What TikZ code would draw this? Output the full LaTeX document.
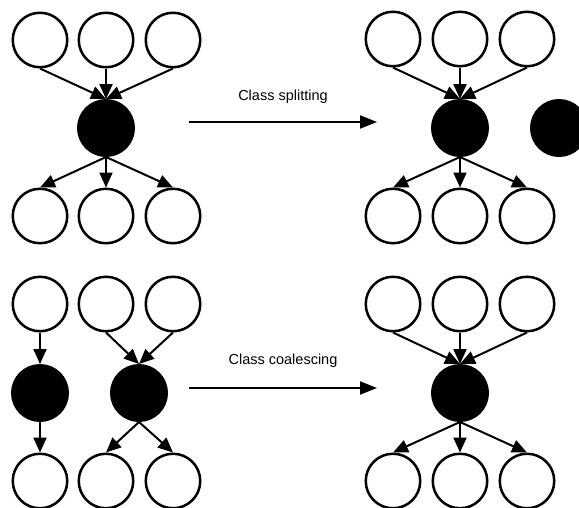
\documentclass[tikz,border=0pt]{standalone}
\usepackage{fontspec}
\setmainfont{Liberation Sans}
\usetikzlibrary{arrows.meta}
\begin{document}
\begin{tikzpicture}[x=1pt,y=-1pt,
  wnode/.style={circle,draw=black,fill=white,line width=2.5pt,minimum size=54.5pt,inner sep=0pt},
  bnode/.style={circle,draw=black,fill=black,line width=2.5pt,minimum size=55.5pt,inner sep=0pt},
  edge/.style={line width=2pt,-{Triangle[length=15pt,width=13pt]}},
  bigarrow/.style={line width=2pt,-{Triangle[length=17pt,width=13pt]}},
  lbl/.style={font=\fontsize{14.5pt}{17pt}\selectfont,inner sep=0pt}]
\useasboundingbox (0,0) rectangle (579,507);
% top-left
\node[wnode] (a1) at (40,40) {};
\node[wnode] (a2) at (106,40) {};
\node[wnode] (a3) at (173,40) {};
\node[bnode] (ab) at (106,128) {};
\node[wnode] (a4) at (40,216) {};
\node[wnode] (a5) at (106,216) {};
\node[wnode] (a6) at (173,216) {};
\draw[edge] (a1.south) -- (ab.north);
\draw[edge] (a2.south) -- (ab.north);
\draw[edge] (a3.south) -- (ab.north);
\draw[edge] (ab.south) -- (a4.north);
\draw[edge] (ab.south) -- (a5.north);
\draw[edge] (ab.south) -- (a6.north);
% top-right
\node[wnode] (b1) at (393,39) {};
\node[wnode] (b2) at (460,39) {};
\node[wnode] (b3) at (527,39) {};
\node[bnode] (bb) at (460,128) {};
\node[bnode] (bx) at (559,128) {};
\node[wnode] (b4) at (393,216) {};
\node[wnode] (b5) at (460,216) {};
\node[wnode] (b6) at (527,216) {};
\draw[edge] (b1.south) -- (bb.north);
\draw[edge] (b2.south) -- (bb.north);
\draw[edge] (b3.south) -- (bb.north);
\draw[edge] (bb.south) -- (b4.north);
\draw[edge] (bb.south) -- (b5.north);
\draw[edge] (bb.south) -- (b6.north);
% bottom-left
\node[wnode] (c1) at (40,304) {};
\node[wnode] (c2) at (106,304) {};
\node[wnode] (c3) at (173,304) {};
\node[bnode] (cb1) at (40,393) {};
\node[bnode] (cb2) at (139,393) {};
\node[wnode] (c4) at (40,481) {};
\node[wnode] (c5) at (106,481) {};
\node[wnode] (c6) at (173,481) {};
\draw[edge] (c1.south) -- (cb1.north);
\draw[edge] (c2.south) -- (cb2.north);
\draw[edge] (c3.south) -- (cb2.north);
\draw[edge] (cb1.south) -- (c4.north);
\draw[edge] (cb2.south) -- (c5.north);
\draw[edge] (cb2.south) -- (c6.north);
% bottom-right
\node[wnode] (d1) at (393,304) {};
\node[wnode] (d2) at (460,304) {};
\node[wnode] (d3) at (527,304) {};
\node[bnode] (db) at (460,393) {};
\node[wnode] (d4) at (393,481) {};
\node[wnode] (d5) at (460,481) {};
\node[wnode] (d6) at (527,481) {};
\draw[edge] (d1.south) -- (db.north);
\draw[edge] (d2.south) -- (db.north);
\draw[edge] (d3.south) -- (db.north);
\draw[edge] (db.south) -- (d4.north);
\draw[edge] (db.south) -- (d5.north);
\draw[edge] (db.south) -- (d6.north);
% transformation arrows
\coordinate (s1) at (189,122);
\coordinate (e1) at (377,122);
\coordinate (s2) at (189,388);
\coordinate (e2) at (377,388);
\draw[bigarrow] (s1) -- (e1);
\draw[bigarrow] (s2) -- (e2);
\node[lbl] (l1) at (283,97) {Class splitting};
\node[lbl] (l2) at (283,361) {Class coalescing};
\end{tikzpicture}
\end{document}
